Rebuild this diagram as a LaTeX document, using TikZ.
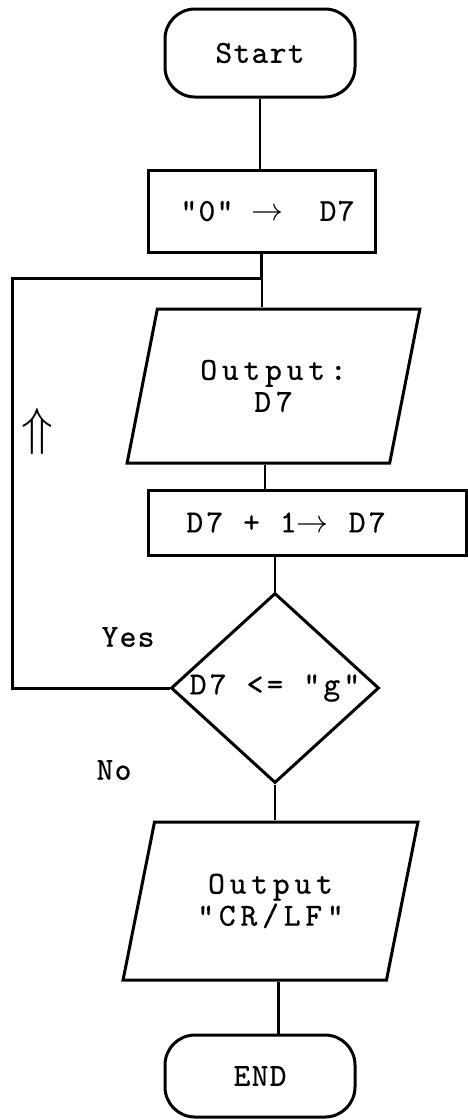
\RequirePackage{fix-cm}
\documentclass[tikz,border=0pt]{standalone}
\usepackage{fontspec}
\setmonofont{lmmono10-regular.otf}[LetterSpace=4, FakeBold=0.6]
\newfontfamily\spacedtt{lmmono10-regular.otf}[LetterSpace=15, FakeBold=0.6]
\newfontfamily\midtt{lmmono10-regular.otf}[LetterSpace=10, FakeBold=0.6]
\usetikzlibrary{shapes.geometric}

\tikzset{
  chartfont/.style={font=\ttfamily\fontsize{32}{32}\selectfont},
  widefont/.style={font=\spacedtt\fontsize{32}{32}\selectfont},
  midfont/.style={font=\midtt\fontsize{32}{32}\selectfont},
  terminal/.style={draw, line width=3pt, rounded corners=30pt, chartfont,
    minimum width=190pt, minimum height=88pt, inner sep=0pt},
  procbox/.style={draw, line width=3pt, chartfont, inner sep=0pt},
  iobox/.style={draw, line width=3pt, widefont, trapezium,
    trapezium left angle=70, trapezium right angle=110,
    trapezium stretches=true, align=center, inner sep=0pt},
  decision/.style={draw, line width=3pt, diamond, inner sep=0pt},
  flow/.style={line width=2.3pt},
  loopline/.style={line width=3pt},
  tag/.style={chartfont, inner sep=0pt}
}

\begin{document}
\begin{tikzpicture}[x=1pt, y=-1pt]
  \useasboundingbox (0,0) rectangle (468,1120);

  % blocks of the flowchart, top to bottom
  \node[terminal] (start) at (260,53) {Start};
  \node[procbox, minimum width=227pt, minimum height=82pt] (init) at (261.5,211)
    {\hspace*{12pt}"0"~$\rightarrow$~~D7};
  \coordinate (join) at (262,278);
  \node[iobox, minimum width=293pt, minimum height=154pt] (out1) at (273.5,386)
    {Output:\\D7};
  \node[procbox, midfont, minimum width=318pt, minimum height=65pt] (inc) at (307,522.5)
    {\hspace*{-42pt}D7 + 1$\rightarrow$ D7};
  \node[decision, minimum width=208pt, minimum height=190pt,
    label={[tag, midfont]center:D7 <= "g"}] (test) at (275,688) {};
  \node[iobox, minimum width=295pt, minimum height=158pt] (out2) at (270.5,901)
    {Output\\"CR/LF"};
  \node[terminal, minimum height=82pt] (stop) at (260,1076) {END};

  % branch labels and loop marker
  \node[tag] (yes) at (128,637) {Yes};
  \node[tag] (no) at (114,770) {No};
  \node[inner sep=0pt, font=\fontsize{52}{52}\selectfont] (up) at (37,431) {$\Uparrow$};

  % connectors
  \draw[flow] (start.south) -- (start.south |- init.north);
  \draw[flow] (init.south) -- (init.south |- join);
  \draw[flow] (join) -- (join |- out1.north);
  \draw[flow] ([xshift=-8.5pt]out1.south) -- ([xshift=-8.5pt]out1.south |- inc.north);
  \draw[flow] (test.north |- inc.south) -- (test.north);
  \draw[flow] (test.south) -- (test.south |- out2.north);
  \draw[flow] ([xshift=8pt]out2.south) -- ([xshift=8pt]out2.south |- stop.north);

  % loop back from the decision
  \draw[loopline] (test.west) -- ++(-157,0) |- (join);
\end{tikzpicture}
\end{document}
